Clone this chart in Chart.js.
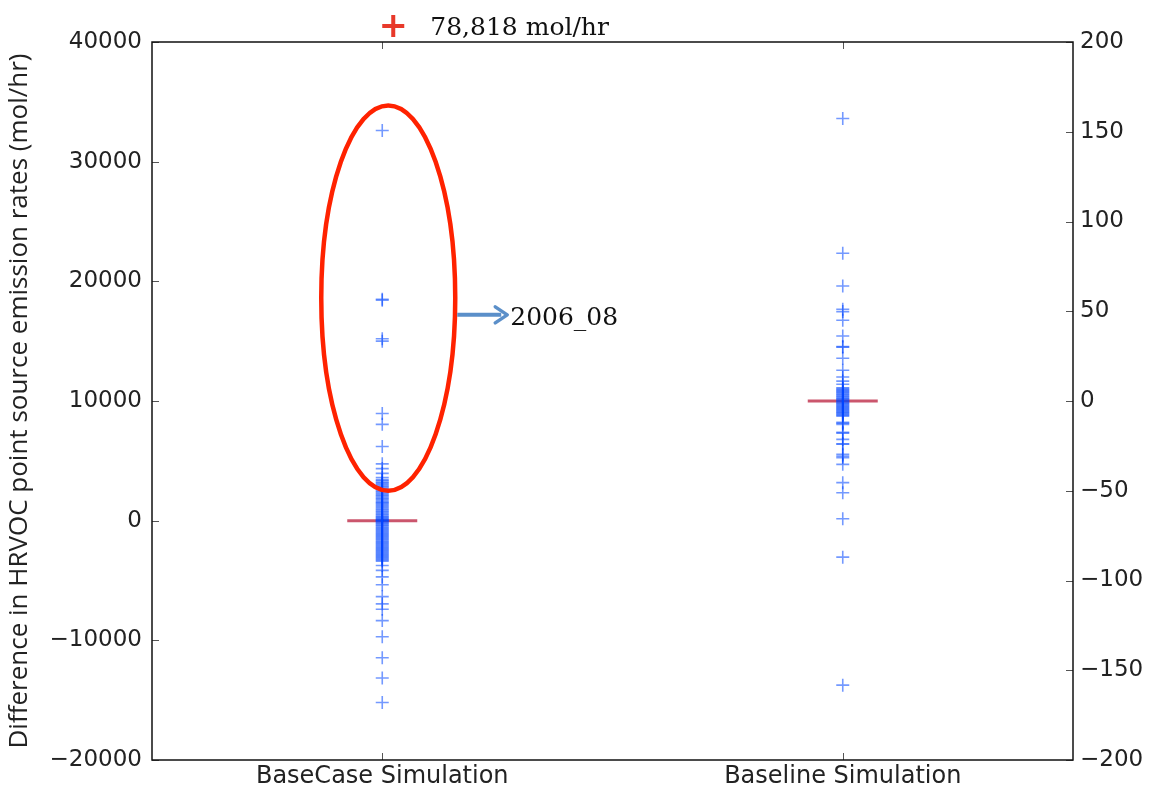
<!DOCTYPE html>
<html>
<head>
<meta charset="utf-8">
<script src="https://cdn.jsdelivr.net/npm/chart.js@4/dist/chart.umd.min.js"></script>
<style>
  html, body { margin: 0; padding: 0; background: #fff; overflow: hidden; }
  #box { position: relative; width: 1156px; height: 790px; }
</style>
</head>
<body>
<div id="box"><canvas id="chart"></canvas></div>
<script>
// categories
const categories = ['BaseCase Simulation', 'Baseline Simulation'];

// BaseCase differences (left axis, mol/hr)
const baseCaseValues = [
  32600, 18500, 18420, 15200, 15000, 8950, 8050, 6200, 4750, 4350, 3950, 3600,
  3420, 3330, 3210, 3120, 3010, 2900, 2810, 2700, 2590, 2480, 2400, 2290, 2180, 2090,
  1980, 1870, 1790, 1680, 1570, 1490, 1380, 1270, 1190, 1080, 970, 890, 780, 690,
  580, 490, 380, 300, 210, 140, 80, 30, 0, -30, -90, -160, -240, -330, -410, -500,
  -590, -680, -770, -860, -950, -1040, -1130, -1220, -1310, -1400, -1490, -1580,
  -1670, -1760, -1850, -1940, -2030, -2120, -2210, -2300, -2390, -2480, -2570,
  -2660, -2750, -2840, -2930, -3020, -3110, -3200, -3290, -3380,
  -3750, -4150, -4700, -5350, -6350, -6950, -7400, -8350, -9700, -11450, -13150, -15200
];

// Baseline differences (right axis, mol/hr)
const baselineValues = [
  157.4, 82.3, 64.1, 51.1, 49.8, 45.0, 36.2, 30.3, 30.0, 23.8, 17.1, 13.4, 11.1, 9.3,
  7.4, 6.9, 6.3, 5.8, 5.2, 4.7, 4.1, 3.6, 3.0, 2.5, 1.9, 1.4, 0.9, 0.4, 0, -0.4,
  -0.9, -1.4, -1.9, -2.4, -2.9, -3.4, -3.9, -4.4, -4.9, -5.4, -5.9, -6.4, -6.9,
  -7.4, -7.9, -8.4, -11.9, -12.4, -13.0, -17.5, -17.9, -21.4, -23.8, -24.1,
  -29.7, -30.7, -31.6, -35.3, -45.5, -51.1, -65.6, -87.0, -158.3
];

// medians
const baseCaseMedian = 0;
const baselineMedian = 0;

// annotations
const outlierLabel = '78,818 mol/hr';
const circledSpan = [2500, 34700];
const circledArrowValue = 17200;
const circledLabel = '2006_08';

// tick labels
const leftTicks = [-20000, -10000, 0, 10000, 20000, 30000, 40000];
const rightTicks = [-200, -150, -100, -50, 0, 50, 100, 150, 200];

const fmt = v => (v < 0 ? '\u2212' + Math.abs(v) : String(v));
const pointBlue = 'rgba(0, 70, 255, 0.55)';

const notes = {
  id: 'notes',
  afterDatasetsDraw(chart) {
    const { ctx, chartArea: a, scales } = chart;
    const x = scales.x, y = scales.y, y2 = scales.y2;
    ctx.save();

    // inside ticks
    ctx.strokeStyle = '#555';
    ctx.lineWidth = 1;
    ctx.beginPath();
    leftTicks.forEach(v => {
      const py = Math.round(y.getPixelForValue(v)) + 0.5;
      ctx.moveTo(a.left, py); ctx.lineTo(a.left + 7, py);
    });
    rightTicks.forEach(v => {
      const py = Math.round(y2.getPixelForValue(v)) + 0.5;
      ctx.moveTo(a.right, py); ctx.lineTo(a.right - 7, py);
    });
    categories.forEach((c, i) => {
      const px = Math.round(x.getPixelForValue(i)) + 0.5;
      ctx.moveTo(px, a.bottom); ctx.lineTo(px, a.bottom - 7);
      ctx.moveTo(px, a.top); ctx.lineTo(px, a.top + 7);
    });
    ctx.stroke();

    // frame
    ctx.strokeStyle = '#111';
    ctx.lineWidth = 1.5;
    ctx.strokeRect(a.left, a.top, a.right - a.left, a.bottom - a.top);

    // red ellipse around the large BaseCase values
    const cx = x.getPixelForValue(0) + 6;
    const eTop = y.getPixelForValue(circledSpan[1]);
    const eBot = y.getPixelForValue(circledSpan[0]);
    const rx = 67;
    ctx.beginPath();
    ctx.ellipse(cx, (eTop + eBot) / 2, rx, (eBot - eTop) / 2, 0, 0, Math.PI * 2);
    ctx.strokeStyle = '#ff2200';
    ctx.lineWidth = 4.5;
    ctx.stroke();

    // arrow to label
    const ay = y.getPixelForValue(circledArrowValue);
    const ax0 = cx + rx + 2, ax1 = ax0 + 50;
    ctx.strokeStyle = '#5b8fc9';
    ctx.lineWidth = 4;
    ctx.beginPath();
    ctx.moveTo(ax0, ay); ctx.lineTo(ax1 - 6, ay);
    ctx.stroke();
    ctx.lineWidth = 3.5;
    ctx.lineCap = 'round';
    ctx.lineJoin = 'round';
    ctx.beginPath();
    ctx.moveTo(ax1 - 12, ay - 8); ctx.lineTo(ax1, ay); ctx.lineTo(ax1 - 12, ay + 8);
    ctx.stroke();

    ctx.fillStyle = '#111';
    ctx.font = '25px "DejaVu Serif"';
    ctx.textAlign = 'left';
    ctx.textBaseline = 'middle';
    ctx.fillText(circledLabel, ax1 + 3, ay + 4);

    // off-scale outlier marker above the plot
    const ox = x.getPixelForValue(0) + 11;
    const oy = a.top - 16;
    ctx.strokeStyle = '#e8392a';
    ctx.lineWidth = 4;
    ctx.lineCap = 'butt';
    ctx.beginPath();
    ctx.moveTo(ox - 11, oy); ctx.lineTo(ox + 11, oy);
    ctx.moveTo(ox, oy - 11); ctx.lineTo(ox, oy + 11);
    ctx.stroke();
    ctx.fillStyle = '#111';
    ctx.font = '25px "DejaVu Serif"';
    ctx.fillText(outlierLabel, ox + 37, oy + 2);

    ctx.restore();
  }
};

// keep fixed axis sizes and drop the label overhang padding
const fixSize = (w, h) => s => {
  if (w !== null) s.width = w;
  if (h !== null) s.height = h;
  s.paddingTop = 0; s.paddingBottom = 0; s.paddingLeft = 0; s.paddingRight = 0;
};

new Chart(document.getElementById('chart').getContext('2d'), {
  type: 'line',
  data: {
    labels: categories,
    datasets: [
      {
        label: 'BaseCase',
        data: baseCaseValues.map(v => ({ x: categories[0], y: v })),
        yAxisID: 'y',
        showLine: false,
        pointStyle: 'cross',
        pointRadius: 6.5,
        borderWidth: 1.6,
        borderColor: pointBlue,
        order: 1
      },
      {
        label: 'Baseline',
        data: baselineValues.map(v => ({ x: categories[1], y: v })),
        yAxisID: 'y2',
        showLine: false,
        pointStyle: 'cross',
        pointRadius: 6.5,
        borderWidth: 1.6,
        borderColor: pointBlue,
        order: 1
      },
      {
        label: 'BaseCase median',
        data: [{ x: categories[0], y: baseCaseMedian }],
        yAxisID: 'y',
        showLine: false,
        pointStyle: 'line',
        pointRadius: 35,
        borderWidth: 3,
        borderColor: 'rgba(185, 30, 60, 0.75)',
        order: 2
      },
      {
        label: 'Baseline median',
        data: [{ x: categories[1], y: baselineMedian }],
        yAxisID: 'y2',
        showLine: false,
        pointStyle: 'line',
        pointRadius: 35,
        borderWidth: 3,
        borderColor: 'rgba(185, 30, 60, 0.75)',
        order: 2
      }
    ]
  },
  options: {
    responsive: true,
    maintainAspectRatio: false,
    animation: false,
    layout: { autoPadding: false, padding: { top: 42, left: 0, right: 0, bottom: 0 } },
    plugins: { legend: { display: false }, tooltip: { enabled: false } },
    elements: { point: { hoverRadius: 6.5 } },
    scales: {
      x: {
        type: 'category',
        offset: true,
        grid: { display: false, drawTicks: false },
        border: { display: false },
        ticks: { padding: 2, color: '#222', font: { family: 'DejaVu Sans', size: 24 } },
        afterFit: fixSize(null, 30)
      },
      y: {
        position: 'left',
        min: -20000,
        max: 40000,
        grid: { display: false, drawTicks: false },
        border: { display: false },
        ticks: { stepSize: 10000, padding: 10, color: '#222', font: { family: 'DejaVu Sans', size: 23 }, callback: fmt },
        title: {
          display: true,
          text: 'Difference in HRVOC point source emission rates (mol/hr)',
          color: '#222',
          font: { family: 'Open Sans', size: 26 },
          padding: { top: 4, bottom: 0 }
        },
        afterFit: fixSize(152, null)
      },
      y2: {
        position: 'right',
        min: -200,
        max: 200,
        grid: { display: false, drawTicks: false },
        border: { display: false },
        ticks: { stepSize: 50, padding: 7, color: '#222', font: { family: 'DejaVu Sans', size: 23 }, callback: fmt },
        afterFit: fixSize(83, null)
      }
    }
  },
  plugins: [notes]
});
</script>
</body>
</html>
